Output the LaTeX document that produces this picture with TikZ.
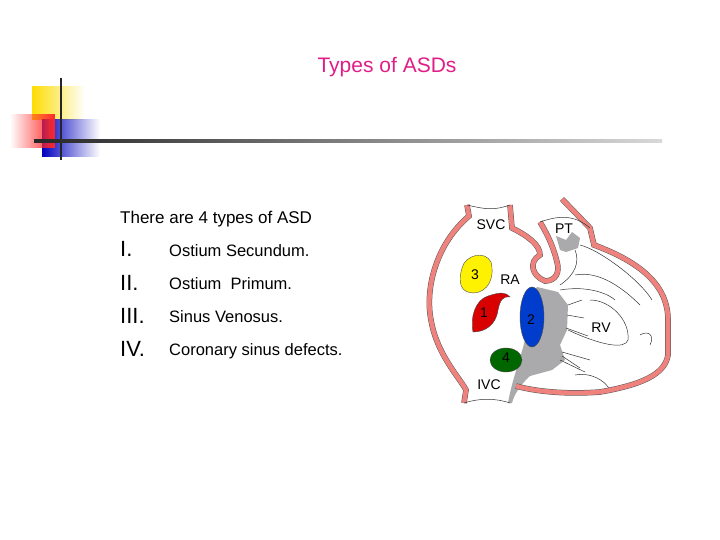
\documentclass[tikz,border=0pt]{standalone}
\usepackage{fontspec}
\setmainfont{Liberation Sans}
\usetikzlibrary{fadings}
\definecolor{wall}{RGB}{240,130,125}
\definecolor{titlepink}{RGB}{225,30,135}
\definecolor{septum}{RGB}{170,170,172}
\tikzset{
  wallline/.style={line width=6pt, double=wall, double distance=4.6pt, draw=gray!70!black, line width=0.5pt},
  thin/.style={draw=black!80, line width=0.5pt},
  label/.style={font=\fontsize{14}{14}\selectfont, inner sep=0pt},
  item/.style={anchor=base west, font=\fontsize{16.5}{16.5}\selectfont, inner sep=0pt},
  numeral/.style={anchor=base west, font=\fontsize{22}{22}\selectfont, inner sep=0pt}
}
\begin{document}
\begin{tikzpicture}[x=1pt,y=-1pt]
        \useasboundingbox (0,0) rectangle (720,540);
        \fill[white] (0,0) rectangle (720,540);

        % corner squares
        \fill[yellow!80!orange, path fading=east] (32,86) rectangle (85,120);
        \fill[blue!75!black, path fading=east] (42,119) rectangle (100,157);
        \fill[red!85, path fading=west] (10,114) rectangle (55,148);
        \draw[black!85, line width=1.6pt] (61,78) -- (61,160);
        \shade[left color=black!85, right color=black!15] (34,140) rectangle (662,142.5);

        \node (title) at (387,67) {\fontsize{21}{21}\selectfont\color{titlepink}Types of ASDs};

        \node[item, font=\fontsize{17}{17}\selectfont] (intro) at (120,224) {There are 4 types of ASD};
        \node[numeral] (n1) at (120,256) {I.};
        \node[numeral] (n2) at (120,290) {II.};
        \node[numeral] (n3) at (120,323) {III.};
        \node[numeral] (n4) at (120,356) {IV.};
        \node[item] (t1) at (169,256) {Ostium Secundum.};
        \node[item] (t2) at (169,289) {Ostium\ \ Primum.};
        \node[item] (t3) at (169,322) {Sinus Venosus.};
        \node[item] (t4) at (169,355) {Coronary sinus defects.};

        % heart
        \fill[septum] (537,287) -- (558,292) -- (568,305) -- (567,330) -- (560,345) -- (565,360)
          -- (552,370) -- (530,376) .. controls (520,385) and (514,395) .. (512,403)
          -- (508,403) .. controls (512,380) and (520,360) .. (525,340) -- (528,300) -- cycle;
        \fill[septum] (556,236) -- (566,240) -- (572,232) -- (580,238) -- (578,248) -- (566,252) -- (560,250) -- cycle;
        \draw[thin] (568,305) -- (582,300) (567,315) -- (584,318) (566,328) -- (588,336)
          (562,352) -- (590,360) (560,360) -- (585,372) (562,356) -- (580,368);
        \draw[thin] (560,290) .. controls (590,285) and (610,295) .. (615,300)
          (568,330) .. controls (600,345) and (625,350) .. (628,340) .. controls (630,320) and (610,300) .. (590,300)
          (575,275) .. controls (600,270) and (625,290) .. (640,305)
          (580,245) .. controls (600,250) and (640,280) .. (652,300)
          (575,375) .. controls (590,372) and (605,380) .. (610,390)
          (640,335) .. controls (648,330) and (655,335) .. (650,345)
          (575,250) .. controls (580,262) and (575,275) .. (560,285);

        \draw[wallline] (467,205) -- (469,216) .. controls (435,245) and (425,290) .. (431,320)
          .. controls (437,355) and (460,378) .. (466,390) -- (464,403);
        \draw[wallline] (510,205) -- (512,228) .. controls (528,236) and (540,245) .. (540,255)
          .. controls (528,262) and (532,276) .. (545,281) .. controls (556,281) and (560,272) .. (557,262)
          .. controls (553,245) and (546,232) .. (540,222);
        \draw[wallline] (562,199) -- (590,228) -- (594,245) .. controls (640,262) and (668,285) .. (668,320)
          -- (668,355) .. controls (665,375) and (640,385) .. (600,392) .. controls (560,395) and (530,390) .. (516,386);
        \draw[thin] (467,205) .. controls (488,210) and (495,210) .. (510,205)
          (540,222) .. controls (560,215) and (575,215) .. (590,228)
          (464,403) .. controls (480,398) and (495,398) .. (510,403);

        \fill[yellow, draw=black!70] (462,268) .. controls (465,255) and (485,250) .. (491,262)
          .. controls (495,278) and (488,292) .. (474,293) .. controls (460,293) and (458,282) .. (462,268) -- cycle;
        \fill[red!85!black, draw=black!70] (488,296) .. controls (500,292) and (506,292) .. (510,297)
          .. controls (503,296) and (500,300) .. (498,310) .. controls (496,325) and (485,332) .. (473,332)
          .. controls (470,318) and (475,300) .. (488,296) -- cycle;
        \fill[blue!70!cyan!80!black, draw=black!70] (532,317) ellipse (12pt and 30pt);
        \fill[green!40!black, draw=black!70] (506,360) ellipse (16pt and 12pt);

        \node[label] (svc) at (491,225) {SVC};
        \node[label] (pt) at (564,229) {PT};
        \node[label] (ra) at (510,280) {RA};
        \node[label] (rv) at (601,328) {RV};
        \node[label] (ivc) at (489,385) {IVC};
        \node[label] (d3) at (475,275) {3};
        \node[label] (d1) at (484,313) {1};
        \node[label] (d2) at (531,320) {2};
        \node[label] (d4) at (506,358) {4};
    \end{tikzpicture}
\end{document}
